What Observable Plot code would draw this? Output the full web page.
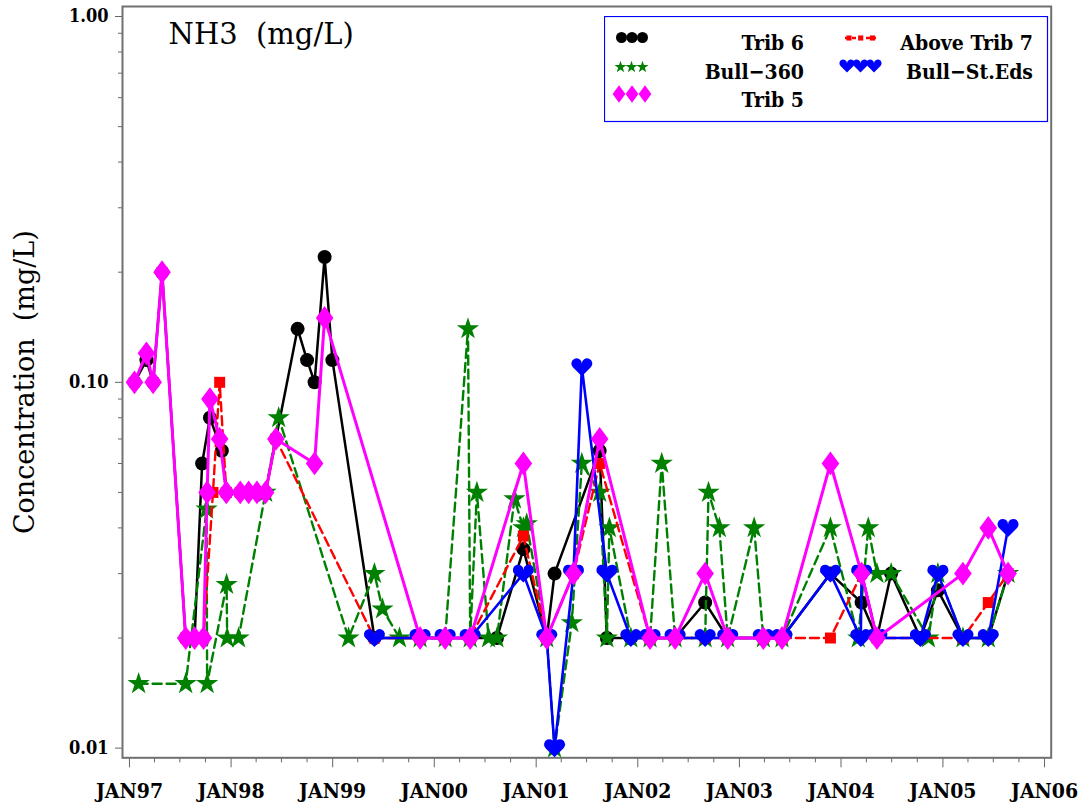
<!DOCTYPE html>
<html>
<head>
<meta charset="utf-8">
<script src="https://cdn.jsdelivr.net/npm/d3@7"></script>
<script src="https://cdn.jsdelivr.net/npm/@observablehq/plot@0.6"></script>
<style>
  body { margin: 0; background: #fff; }
  #wrap { position: relative; width: 1086px; height: 808px; overflow: hidden; background: #fff; }
</style>
</head>
<body>
<div id="wrap"></div>
<script>
// ---------- DATA ----------
const trib6 = [
  ["1997-01-19",0.10],["1997-03-03",0.115],["1997-03-27",0.10],["1997-04-28",0.20],
  ["1997-07-22",0.02],["1997-08-23",0.02],["1997-09-19",0.06],["1997-10-17",0.08],
  ["1997-11-29",0.065],["1997-12-15",0.05],["1998-02-03",0.05],["1998-03-05",0.05],
  ["1998-04-04",0.05],["1998-05-05",0.05],["1998-06-11",0.07],["1998-08-28",0.14],
  ["1998-10-01",0.115],["1998-10-28",0.10],["1998-12-03",0.22],["1998-12-31",0.115],
  ["1999-05-31",0.02],["1999-11-11",0.02],["2000-02-09",0.02],["2000-05-09",0.02],
  ["2000-08-13",0.02],["2000-11-16",0.035],["2001-02-08",0.02],["2001-03-08",0.03],
  ["2001-08-17",0.065],["2001-09-12",0.02],["2001-12-07",0.02],["2002-02-14",0.02],
  ["2002-05-15",0.02],["2002-08-31",0.025],["2002-11-20",0.02],["2003-03-28",0.02],
  ["2003-06-03",0.02],["2003-11-24",0.03],["2004-03-15",0.025],["2004-05-09",0.02],
  ["2004-06-29",0.03],["2004-10-12",0.02],["2004-12-14",0.027],["2005-03-14",0.02],
  ["2005-06-13",0.02],["2005-08-23",0.03]
];
const bull360 = [
  ["1997-02-03",0.015],["1997-07-22",0.015],["1997-10-05",0.045],["1997-10-07",0.015],
  ["1997-12-16",0.028],["1997-12-18",0.02],["1998-01-28",0.02],["1998-05-05",0.05],
  ["1998-06-21",0.08],["1999-02-27",0.02],["1999-05-31",0.03],["1999-06-29",0.024],
  ["1999-08-29",0.02],["1999-11-11",0.02],["2000-02-09",0.02],["2000-05-01",0.14],
  ["2000-05-09",0.02],["2000-06-02",0.05],["2000-07-14",0.02],["2000-08-13",0.02],
  ["2000-10-15",0.048],["2000-11-16",0.04],["2000-11-28",0.041],["2001-02-08",0.02],
  ["2001-03-08",0.01],["2001-05-09",0.022],["2001-06-14",0.06],["2001-08-17",0.05],
  ["2001-09-12",0.02],["2001-09-21",0.04],["2001-12-07",0.02],["2002-02-14",0.02],
  ["2002-03-28",0.06],["2002-05-15",0.02],["2002-08-31",0.02],["2002-09-12",0.05],
  ["2002-10-21",0.04],["2002-11-20",0.02],["2003-02-23",0.04],["2003-03-28",0.02],
  ["2003-06-03",0.02],["2003-11-24",0.04],["2004-03-03",0.02],["2004-04-08",0.04],
  ["2004-05-09",0.03],["2004-06-29",0.03],["2004-11-10",0.02],["2004-12-14",0.03],
  ["2005-03-14",0.02],["2005-06-13",0.02],["2005-08-23",0.03]
];
const trib5 = [
  ["1997-01-19",0.10],["1997-03-03",0.12],["1997-03-27",0.10],["1997-04-28",0.20],
  ["1997-07-22",0.02],["1997-08-23",0.02],["1997-09-24",0.02],["1997-10-07",0.05],
  ["1997-10-17",0.09],["1997-11-21",0.07],["1997-12-15",0.05],["1998-02-03",0.05],
  ["1998-03-05",0.05],["1998-04-04",0.05],["1998-05-05",0.05],["1998-06-11",0.07],
  ["1998-10-28",0.06],["1998-12-03",0.15],["1999-11-11",0.02],["2000-02-09",0.02],
  ["2000-05-09",0.02],["2000-11-16",0.06],["2001-02-08",0.02],["2001-05-15",0.03],
  ["2001-08-17",0.07],["2002-02-14",0.02],["2002-05-15",0.02],["2002-08-31",0.03],
  ["2002-11-20",0.02],["2003-03-28",0.02],["2003-06-03",0.02],["2003-11-24",0.06],
  ["2004-03-15",0.03],["2004-05-09",0.02],["2005-03-14",0.03],["2005-06-13",0.04],
  ["2005-08-23",0.03]
];
const aboveTrib7 = [
  ["1997-07-22",0.02],["1997-08-23",0.02],["1997-09-24",0.02],["1997-10-28",0.05],
  ["1997-11-21",0.10],["1997-12-15",0.05],["1998-02-03",0.05],["1998-03-05",0.05],
  ["1998-04-04",0.05],["1998-05-05",0.05],["1998-06-11",0.07],["1999-05-31",0.02],
  ["1999-11-11",0.02],["2000-02-09",0.02],["2000-05-09",0.02],["2000-11-16",0.038],
  ["2001-02-08",0.02],["2001-05-15",0.03],["2001-08-17",0.06],["2002-02-14",0.02],
  ["2002-05-15",0.02],["2002-08-31",0.02],["2002-11-20",0.02],["2003-03-28",0.02],
  ["2003-06-03",0.02],["2003-11-24",0.02],["2004-03-15",0.03],["2004-05-09",0.02],
  ["2005-03-14",0.02],["2005-06-13",0.025],["2005-08-23",0.03]
];
const bullStEds = [
  ["1999-05-31",0.02],["1999-11-11",0.02],["2000-02-09",0.02],["2000-05-09",0.02],
  ["2000-11-16",0.03],["2001-02-08",0.02],["2001-03-08",0.01],["2001-05-15",0.03],
  ["2001-06-14",0.11],["2001-09-12",0.03],["2001-12-07",0.02],["2002-02-14",0.02],
  ["2002-05-15",0.02],["2002-08-31",0.02],["2002-11-20",0.02],["2003-03-28",0.02],
  ["2003-06-03",0.02],["2003-11-24",0.03],["2004-03-12",0.02],["2004-03-15",0.03],
  ["2004-05-09",0.02],["2004-10-12",0.02],["2004-12-14",0.03],["2005-03-14",0.02],
  ["2005-06-13",0.02],["2005-08-23",0.04]
];

const seriesNames = ["Trib 6", "Bull\u2212360", "Trib 5", "Above Trib 7", "Bull\u2212St.Eds"];
const seriesData = [trib6, bull360, trib5, aboveTrib7, bullStEds];

const xTickDates = ["1997-01-01","1998-01-01","1999-01-01","2000-01-01","2001-01-01",
                    "2002-01-01","2003-01-01","2004-01-01","2005-01-01","2006-01-01"];
const xTickLabels = ["JAN97","JAN98","JAN99","JAN00","JAN01","JAN02","JAN03","JAN04","JAN05","JAN06"];
const yTickValues = [0.01, 0.1, 1];
const yTickLabels = ["0.01", "0.10", "1.00"];
const yMinorTicks = [0.02,0.03,0.04,0.05,0.06,0.07,0.08,0.09,0.2,0.3,0.4,0.5,0.6,0.7,0.8,0.9];
const titleText = "NH3\u00a0 (mg/L)";
const yLabelText = "Concentration\u00a0 (mg/L)";

// ---------- SYMBOLS & STYLES ----------
const heartSymbol = {
  draw(ctx, size) {
    const r = Math.sqrt(size / Math.PI) / 2, cy = -0.7 * r, s = Math.SQRT1_2;
    ctx.moveTo(0, cy + r * (1 + 2 * s));
    ctx.lineTo(-r * (1 + s), cy + r * s);
    ctx.arc(-r, cy, r, 0.75 * Math.PI, 2 * Math.PI);
    ctx.arc(r, cy, r, Math.PI, 2.25 * Math.PI);
    ctx.closePath();
  }
};
const diamondSymbol = {
  draw(ctx, size) {
    const w = Math.sqrt(size / Math.PI), h = 1.35 * w;
    ctx.moveTo(0, -h); ctx.lineTo(w, 0); ctx.lineTo(0, h); ctx.lineTo(-w, 0); ctx.closePath();
  }
};
const styles = [
  {color: "#000000", symbol: d3.symbolCircle, r: 7,   width: 2.5, dash: null},
  {color: "#008000", symbol: d3.symbolStar,   r: 7,   width: 2.4, dash: "9,5"},
  {color: "#ff00ff", symbol: diamondSymbol,   r: 8.8, width: 3,   dash: null},
  {color: "#ff0000", symbol: d3.symbolSquare, r: 6.2, width: 2.4, dash: "9,5"},
  {color: "#0000ff", symbol: heartSymbol,     r: 10.5, width: 2.6, dash: null}
];
const drawOrder = [0, 1, 3, 4, 2];

const parse = d3.utcParse("%Y-%m-%d");
const rows = seriesData.flatMap((arr, i) => arr.map(([d, v]) => ({series: seriesNames[i], date: parse(d), value: v})));

const xMajor = xTickDates.map(parse);
const xLabelMap = new Map(xMajor.map((d, i) => [+d, xTickLabels[i]]));
const xMinor = d3.utcMonth.every(3).range(parse("1997-01-01"), parse("2006-01-02")).filter(d => d.getUTCMonth() !== 0);

const SERIF = "DejaVu Serif, serif";
const BOLDF = "DejaVu Serif Condensed, Liberation Serif, serif";
const marks = [];
for (const i of drawOrder) {
  const st = styles[i];
  const data = rows.filter(d => d.series === seriesNames[i]);
  marks.push(Plot.line(data, {x: "date", y: "value", stroke: st.color, strokeWidth: st.width,
    strokeDasharray: st.dash || undefined}));
  marks.push(Plot.dot(data, {x: "date", y: "value", symbol: st.symbol, r: st.r, fill: st.color, stroke: "none"}));
}

const chart = Plot.plot({
  width: 1086, height: 808,
  marginLeft: 122, marginRight: 35.3, marginTop: 6, marginBottom: 50.7,
  style: {background: "#fff", fontFamily: SERIF, color: "#000", overflow: "visible"},
  x: {type: "utc", domain: [parse("1996-12-07"), parse("2006-01-25")]},
  y: {type: "log", domain: [0.00941, 1.065]},
  marks: [
    Plot.axisX(xMinor, {tickSize: 5, tickFormat: () => "", label: null, stroke: "#666"}),
    Plot.axisX(xMajor, {tickSize: 10, tickPadding: 15, tickFormat: d => xLabelMap.get(+d), label: null,
      stroke: "#666", fill: "#000", fontSize: 21, fontWeight: "bold", fontFamily: BOLDF}),
    Plot.axisY(yMinorTicks, {tickSize: 4, tickFormat: () => "", label: null, stroke: "#666"}),
    Plot.axisY(yTickValues, {tickSize: 7, tickPadding: 7, tickFormat: d => yTickLabels[yTickValues.indexOf(d)],
      label: null, stroke: "#666", fill: "#000", fontSize: 18, fontWeight: "bold", fontFamily: BOLDF}),
    Plot.frame({stroke: "#707070", strokeWidth: 2}),
    ...marks,
    Plot.text([titleText], {text: d => d, frameAnchor: "top-left", dx: 46, dy: 16.5, textAnchor: "start",
      lineAnchor: "top", fontSize: 29, fontFamily: SERIF, fill: "#000"}),
    Plot.text([yLabelText], {text: d => d, frameAnchor: "left", dx: -97, rotate: -90, textAnchor: "middle",
      lineAnchor: "middle", fontSize: 27, fontFamily: SERIF, fill: "#000"})
  ]
});
const wrap = document.getElementById("wrap");
wrap.appendChild(chart);

// ---------- LEGEND (overlay inside the plot area, top-right) ----------
const legendLayout = [
  {xs: [17.5, 28, 38.5], cy: 21.5, lr: 5.5,  tx: 200, ty: 33.5},
  {xs: [16.5, 27.5, 38.5], cy: 51, lr: 3.8, tx: 200, ty: 62.5},
  {xs: [15, 28, 41], cy: 78, lr: 6.4,      tx: 200, ty: 91},
  {xs: [245, 256.7, 268.5], cy: 22, lr: 2.9, tx: 429, ty: 33.5, line: [241, 272]},
  {xs: [243, 256.5, 270], cy: 50, lr: 7.6, tx: 429, ty: 62.5}
];
const lg = d3.create("svg").attr("width", 445).attr("height", 107)
  .style("position", "absolute").style("left", "604px").style("top", "16px");
lg.append("rect").attr("x", 0.5).attr("y", 0.5).attr("width", 443).attr("height", 105)
  .attr("fill", "#fff").attr("stroke", "#0000ff").attr("stroke-width", 1.2);
seriesNames.forEach((name, i) => {
  const L = legendLayout[i], st = styles[i];
  if (L.line) {
    lg.append("line").attr("x1", L.line[0]).attr("x2", L.line[1]).attr("y1", L.cy).attr("y2", L.cy)
      .attr("stroke", st.color).attr("stroke-width", 2.5).attr("stroke-dasharray", "4,3");
  }
  const path = d3.symbol(st.symbol, Math.PI * L.lr * L.lr)();
  for (const x of L.xs) {
    lg.append("path").attr("d", path).attr("transform", `translate(${x},${L.cy})`).attr("fill", st.color);
  }
  lg.append("text").attr("x", L.tx).attr("y", L.ty).attr("text-anchor", "end")
    .attr("font-family", BOLDF).attr("font-weight", "bold").attr("font-size", 21).attr("fill", "#000")
    .text(name);
});
wrap.appendChild(lg.node());
</script>
</body>
</html>
